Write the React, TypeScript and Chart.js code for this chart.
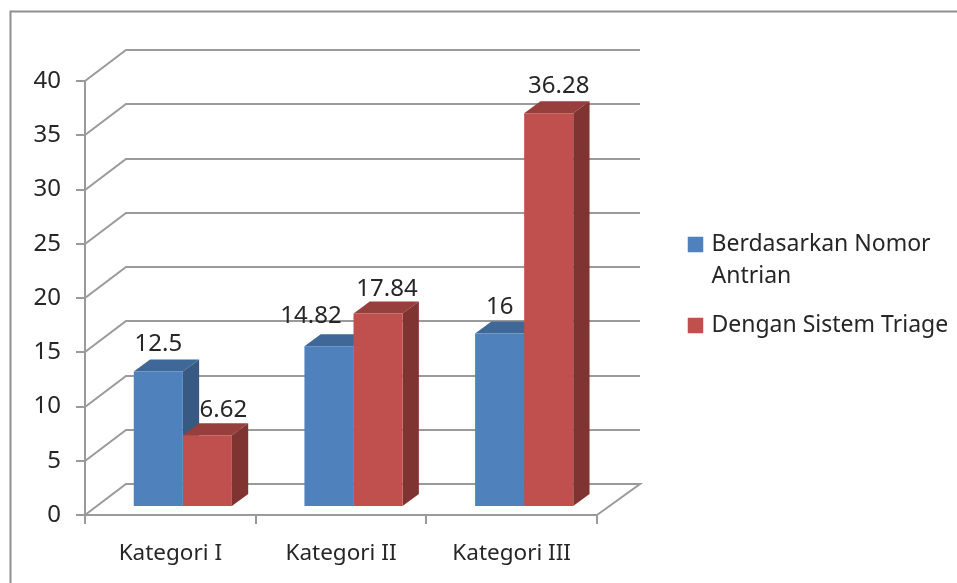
import React, { useEffect, useRef } from "react";
import { Chart, registerables } from "chart.js";

Chart.register(...registerables);

const categories = ["Kategori I", "Kategori II", "Kategori III"];
const nomorAntrian = [12.5, 14.82, 16];
const sistemTriage = [6.62, 17.84, 36.28];
const seriesNames: (string | string[])[] = [["Berdasarkan Nomor", "Antrian"], "Dengan Sistem Triage"];

const GRID = "#9a9a9a";
const INK = "#262626";
const FONT = "'Noto Sans'";

const faces = [
  { front: "#4f81bd", top: "#3f6797", side: "#385a82" },
  { front: "#c0504d", top: "#973f3d", side: "#7f3432" },
];
// label nudges, relative to the top centre of each bar's front face: [dx, dy]
const labelNudges = [
  [[0, -27], [-18, -30], [0, -26]],
  [[16, -25], [9, -24], [10, -27]],
];

const SHIFT_X = 12.5;
const SHIFT_Y = -8;
const DEPTH_X = 16.3;
const DEPTH_Y = 12;
const LEGEND_WIDTH = 280;

const threeD = {
  id: "threeD",
  beforeDraw(chart: any) {
    const { ctx, width, height } = chart;
    ctx.save();
    ctx.strokeStyle = "#8f8f8f";
    ctx.lineWidth = 2;
    ctx.beginPath();
    ctx.moveTo(10.5, height);
    ctx.lineTo(10.5, 11.5);
    ctx.lineTo(width, 11.5);
    ctx.stroke();
    ctx.restore();
  },
  beforeDatasetsDraw(chart: any) {
    const { ctx, chartArea, scales } = chart;
    const y = scales.y;
    ctx.save();
    ctx.strokeStyle = GRID;
    ctx.lineWidth = 2;
    y.ticks.forEach((t: any) => {
      const py = Math.round(y.getPixelForValue(t.value));
      ctx.beginPath();
      ctx.moveTo(chartArea.left, py);
      ctx.lineTo(chartArea.left + 41, py - 31);
      ctx.lineTo(640, py - 31);
      if (t.value === 0) ctx.lineTo(chartArea.right, py);
      ctx.stroke();
    });
    // depth faces of every bar, first series first, so the second covers its side
    ctx.translate(SHIFT_X, SHIFT_Y);
    chart.data.datasets.forEach((_: any, d: number) => {
      const face = faces[d];
      chart.getDatasetMeta(d).data.forEach((el: any) => {
        const l = el.x - el.width / 2;
        const r = el.x + el.width / 2;
        const t = el.y;
        const b = el.base;
        ctx.fillStyle = face.top;
        ctx.beginPath();
        ctx.moveTo(l, t);
        ctx.lineTo(l + DEPTH_X, t - DEPTH_Y);
        ctx.lineTo(r + DEPTH_X, t - DEPTH_Y);
        ctx.lineTo(r, t);
        ctx.closePath();
        ctx.fill();
        ctx.fillStyle = face.side;
        ctx.beginPath();
        ctx.moveTo(r, t);
        ctx.lineTo(r + DEPTH_X, t - DEPTH_Y);
        ctx.lineTo(r + DEPTH_X, b - DEPTH_Y);
        ctx.lineTo(r, b);
        ctx.closePath();
        ctx.fill();
      });
    });
    ctx.restore();
  },
  beforeDatasetDraw(chart: any) {
    chart.ctx.save();
    chart.ctx.translate(SHIFT_X, SHIFT_Y);
  },
  afterDatasetDraw(chart: any) {
    chart.ctx.restore();
  },
  afterDatasetsDraw(chart: any) {
    const { ctx } = chart;
    ctx.save();
    ctx.fillStyle = INK;
    ctx.font = `24px ${FONT}`;
    ctx.textAlign = "center";
    ctx.textBaseline = "middle";
    chart.data.datasets.forEach((ds: any, d: number) => {
      chart.getDatasetMeta(d).data.forEach((el: any, i: number) => {
        const [nx, ny] = labelNudges[d][i];
        ctx.fillText(String(ds.data[i]), el.x + SHIFT_X + nx, el.y + SHIFT_Y + ny);
      });
    });
    ctx.restore();
  },
  afterLayout(chart: any) {
    const lg = chart.legend;
    const w = lg.width;
    lg.left = 674;
    lg.right = lg.left + w;
    lg.top -= 47;
    lg.bottom -= 47;
  },
};

export default function App() {
  const ref = useRef<HTMLCanvasElement>(null);
  useEffect(() => {
    if (!ref.current) return;
    const chart = new Chart(ref.current, {
      type: "bar",
      data: {
        labels: categories,
        datasets: [
          { label: "a", data: nomorAntrian, backgroundColor: faces[0].front, categoryPercentage: 0.575, barPercentage: 1 },
          { label: "b", data: sistemTriage, backgroundColor: faces[1].front, categoryPercentage: 0.575, barPercentage: 1 },
        ],
      },
      options: {
        responsive: false,
        animation: false,
        layout: { padding: { left: 0, top: 81, bottom: 0, right: 957 - 597 - LEGEND_WIDTH } },
        plugins: {
          tooltip: { enabled: false },
          legend: {
            position: "right",
            maxWidth: LEGEND_WIDTH,
            labels: {
              color: INK,
              font: { family: FONT, size: 23, lineHeight: 1.39 },
              padding: 17,
              boxWidth: 9,
              boxHeight: 9,
              generateLabels: () =>
                seriesNames.map((text, i) => ({
                  text: text as any,
                  fillStyle: faces[i].front,
                  strokeStyle: faces[i].front,
                  lineWidth: 6.5,
                  datasetIndex: i,
                  fontColor: INK,
                })),
            },
          },
        },
        scales: {
          x: {
            afterFit: (s: any) => { s.height = 68; },
            grid: { display: true, drawOnChartArea: false, color: GRID, lineWidth: 2, tickLength: 9 },
            border: { color: GRID, width: 2 },
            ticks: { color: INK, font: { family: FONT, size: 22.5 }, padding: 16, maxRotation: 0 },
          },
          y: {
            min: 0,
            max: 40,
            afterFit: (s: any) => { s.width = 85; },
            grid: { display: true, drawOnChartArea: false, color: GRID, lineWidth: 2, tickLength: 9 },
            border: { color: GRID, width: 2 },
            ticks: { stepSize: 5, color: INK, font: { family: FONT, size: 24 }, padding: 15 },
          },
        },
      },
      plugins: [threeD],
    } as any);
    return () => chart.destroy();
  }, []);
  return (
    <div style={{ position: "absolute", left: 0, top: 0, width: 957, height: 583, background: "#fff" }}>
      <canvas ref={ref} width={957} height={583} style={{ display: "block" }} />
    </div>
  );
}
